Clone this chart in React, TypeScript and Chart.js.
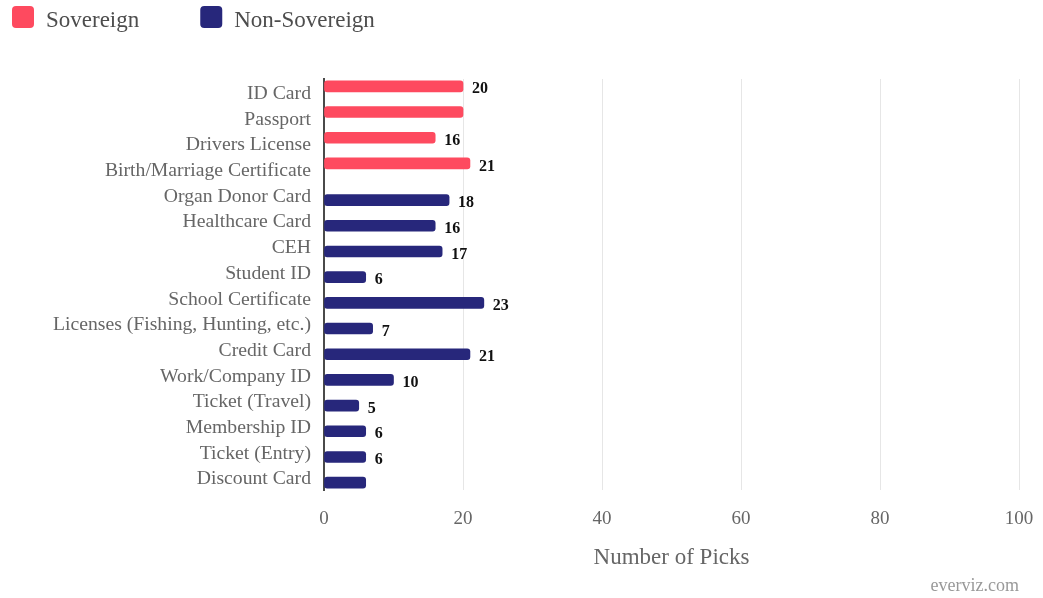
import React, { useEffect, useRef } from "react";
import { Chart, registerables } from "chart.js";

Chart.register(...registerables);

const FONT = "'Liberation Serif', 'Times New Roman', serif";

const categories = [
  "ID Card",
  "Passport",
  "Drivers License",
  "Birth/Marriage Certificate",
  "Organ Donor Card",
  "Healthcare Card",
  "CEH",
  "Student ID",
  "School Certificate",
  "Licenses (Fishing, Hunting, etc.)",
  "Credit Card",
  "Work/Company ID",
  "Ticket (Travel)",
  "Membership ID",
  "Ticket (Entry)",
  "Discount Card",
];

const sovereignValues = [20, 20, 16, 21, null, null, null, null, null, null, null, null, null, null, null, null];
const nonSovereignValues = [null, null, null, null, 18, 16, 17, 6, 23, 7, 21, 10, 5, 6, 6, 6];

const unlabeledCategories = ["Passport", "Discount Card"];

const xTicks = [0, 20, 40, 60, 80, 100];

const seriesNames = ["Sovereign", "Non-Sovereign"];
const seriesColors = ["#fe4a5f", "#27277b"];

const valueLabelPlugin = {
  id: "valueLabels",
  afterDatasetsDraw(chart: any) {
    const ctx = chart.ctx;
    ctx.save();
    ctx.font = `bold 16px ${FONT}`;
    ctx.fillStyle = "#111";
    ctx.textAlign = "left";
    ctx.textBaseline = "middle";
    chart.data.datasets.forEach((ds: any, di: number) => {
      const meta = chart.getDatasetMeta(di);
      meta.data.forEach((el: any, i: number) => {
        const v = ds.data[i];
        if (v === null || v === undefined) return;
        if (unlabeledCategories.includes(chart.data.labels[i])) return;
        ctx.fillText(String(v), el.x + 9, el.y + 3);
      });
    });
    ctx.restore();
  },
};

const customLegendPlugin = {
  id: "customLegend",
  afterDraw(chart: any) {
    const ctx = chart.ctx;
    ctx.save();
    ctx.font = `23px ${FONT}`;
    ctx.textAlign = "left";
    ctx.textBaseline = "alphabetic";
    let x = 12;
    const y = 6;
    const box = 22;
    chart.data.datasets.forEach((ds: any) => {
      ctx.fillStyle = ds.backgroundColor;
      ctx.beginPath();
      (ctx as any).roundRect(x, y, box, box, 4);
      ctx.fill();
      ctx.fillStyle = "#4d4d4d";
      ctx.fillText(ds.label, x + box + 12, 27);
      const w = ctx.measureText(ds.label).width;
      x += box + 12 + w + 61;
    });
    ctx.restore();
  },
};

const creditsPlugin = {
  id: "credits",
  afterDraw(chart: any) {
    const ctx = chart.ctx;
    ctx.save();
    ctx.font = `18px ${FONT}`;
    ctx.fillStyle = "#999";
    ctx.textAlign = "right";
    ctx.textBaseline = "alphabetic";
    ctx.fillText("everviz.com", chart.chartArea.right, 591);
    ctx.restore();
  },
};

export default function App() {
  const canvasRef = useRef<HTMLCanvasElement | null>(null);

  useEffect(() => {
    if (!canvasRef.current) return;
    Chart.defaults.font.family = FONT;
    const chart = new Chart(canvasRef.current, {
      type: "bar",
      data: {
        labels: categories,
        datasets: [
          {
            label: seriesNames[0],
            data: sovereignValues,
            backgroundColor: seriesColors[0],
            borderRadius: 3,
            borderSkipped: false,
            categoryPercentage: 0.8,
            barThickness: 11,
          },
          {
            label: seriesNames[1],
            data: nonSovereignValues,
            backgroundColor: seriesColors[1],
            borderRadius: 3,
            borderSkipped: false,
            categoryPercentage: 0.8,
            barThickness: 11,
          },
        ] as any,
      },
      options: {
        indexAxis: "y",
        animation: false,
        responsive: true,
        maintainAspectRatio: false,
        layout: { padding: { top: 79, right: 24, bottom: 0, left: 0 } },
        plugins: {
          legend: { display: false },
          tooltip: { enabled: false },
        },
        scales: {
          x: {
            min: xTicks[0],
            max: xTicks[xTicks.length - 1],
            afterBuildTicks: (scale: any) => {
              scale.ticks = xTicks.map((v) => ({ value: v }));
            },
            ticks: {
              padding: 18,
              color: "#666",
              font: { family: FONT, size: 19 },
            },
            grid: { color: "#e6e6e6", drawTicks: false },
            border: { display: false },
            title: {
              display: true,
              text: "Number of Picks",
              color: "#666",
              font: { family: FONT, size: 23 },
              padding: { top: 0, bottom: 26 },
            },
            afterFit: (scale: any) => {
              scale.height = 108;
              scale.paddingLeft = 0;
              scale.paddingRight = 0;
            },
          },
          y: {
            ticks: {
              padding: 13,
              labelOffset: 2,
              color: "#666",
              autoSkip: false,
              font: { family: FONT, size: 19.7 },
            },
            grid: { display: false, drawTicks: false },
            border: { display: true, color: "#4a4a4a", width: 2 },
            afterFit: (scale: any) => {
              scale.width = 324;
              scale.paddingTop = 0;
              scale.paddingBottom = 0;
            },
          },
        },
      } as any,
      plugins: [valueLabelPlugin, customLegendPlugin, creditsPlugin],
    });
    return () => chart.destroy();
  }, []);

  return (
    <div style={{ position: "absolute", left: 0, top: 0, width: 1043, height: 598 }}>
      <canvas ref={canvasRef} />
    </div>
  );
}
